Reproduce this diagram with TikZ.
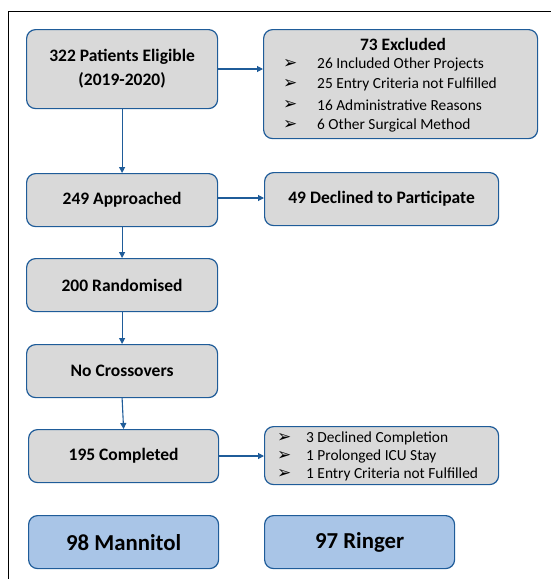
\documentclass[tikz,border=0pt]{standalone}
\usepackage{fontspec}
\setmainfont{Carlito}
\newfontfamily\bulletfont{DejaVu Sans}
\usetikzlibrary{arrows.meta}
\definecolor{Flow_Blue}{HTML}{1F5C99}
\definecolor{Flow_Grey}{HTML}{D9D9D9}
\definecolor{Flow_Light}{HTML}{A9C5E7}
\newcommand{\itm}{{\bulletfont\fontsize{17}{18}\selectfont ➢}}

\begin{document}
\begin{tikzpicture}[
    x=1pt, y=-1pt,
    box/.style={draw=Flow_Blue, line width=1.2pt, rounded corners=9pt, fill=Flow_Grey, anchor=north west, inner sep=0pt, align=center, font=\fontsize{17.5}{24}\selectfont\bfseries},
    group/.style={box, fill=Flow_Light, font=\fontsize{22.8}{26}\selectfont\bfseries},
    flow/.style={draw=Flow_Blue, line width=1.1pt, -{Triangle[length=6pt, width=6pt]}},
    item/.style={anchor=west, inner sep=0pt, font=\fontsize{15.4}{17}\selectfont}
]
\useasboundingbox (0,0) rectangle (551,579);
\draw[line width=0.8pt] (8,579) -- (8,11) -- (551,11);

% left column
\node[box, minimum width=191pt, minimum height=79pt] (eligible) at (26,29) {322 Patients Eligible\\(2019-2020)};
\node[box, minimum width=191pt, minimum height=53pt] (approached) at (26,173) {249 Approached};
\node[box, minimum width=191pt, minimum height=53pt] (randomised) at (26,258) {200 Randomised};
\node[box, minimum width=191pt, minimum height=53pt] (nocross) at (26,344) {No Crossovers};
\node[box, minimum width=190pt, minimum height=53pt] (completed) at (28,429) {195 Completed};

% right column
\node[box, minimum width=274pt, minimum height=109pt] (excluded) at (263,29) {};
\node[inner sep=0pt, font=\fontsize{17.4}{19}\selectfont\bfseries] (exctitle) at (403,44) {73 Excluded};
\node[item] (exc1) at (283,64) {\itm};
\node[item] (exc2) at (283,84) {\itm};
\node[item] (exc3) at (283,105) {\itm};
\node[item] (exc4) at (283,125) {\itm};
\node[item] (exct1) at (317,64) {26 Included Other Projects};
\node[item] (exct2) at (317,84) {25 Entry Criteria not Fulfilled};
\node[item] (exct3) at (317,105) {16 Administrative Reasons};
\node[item] (exct4) at (317,125) {6 Other Surgical Method};

\node[box, minimum width=234pt, minimum height=53pt] (declined) at (264,172) {49 Declined to Participate};

\node[box, minimum width=234pt, minimum height=58pt] (withdrawn) at (264,426) {};
\node[item] (wd1) at (277,438) {\itm};
\node[item] (wd2) at (277,456) {\itm};
\node[item] (wd3) at (277,474) {\itm};
\node[item] (wdt1) at (306,438) {3 Declined Completion};
\node[item] (wdt2) at (306,456) {1 Prolonged ICU Stay};
\node[item] (wdt3) at (306,474) {1 Entry Criteria not Fulfilled};

% groups
\node[group, minimum width=190pt, minimum height=53pt] (mannitol) at (28,515) {98 Mannitol};
\node[group, minimum width=190pt, minimum height=53pt] (ringer) at (264,515) {97 Ringer};

% connectors
\draw[flow] (eligible.east |- 0,69) -- (excluded.west |- 0,69);
\draw[flow] (eligible.south) -- (approached.north);
\draw[flow] (approached.east |- 0,198) -- (declined.west |- 0,198);
\draw[flow] (approached.south) -- (randomised.north);
\draw[flow] (randomised.south) -- (nocross.north);
\draw[flow] (nocross.south) -- (completed.north);
\draw[flow] (completed.east |- 0,456) -- (withdrawn.west |- 0,456);
\end{tikzpicture}
\end{document}
